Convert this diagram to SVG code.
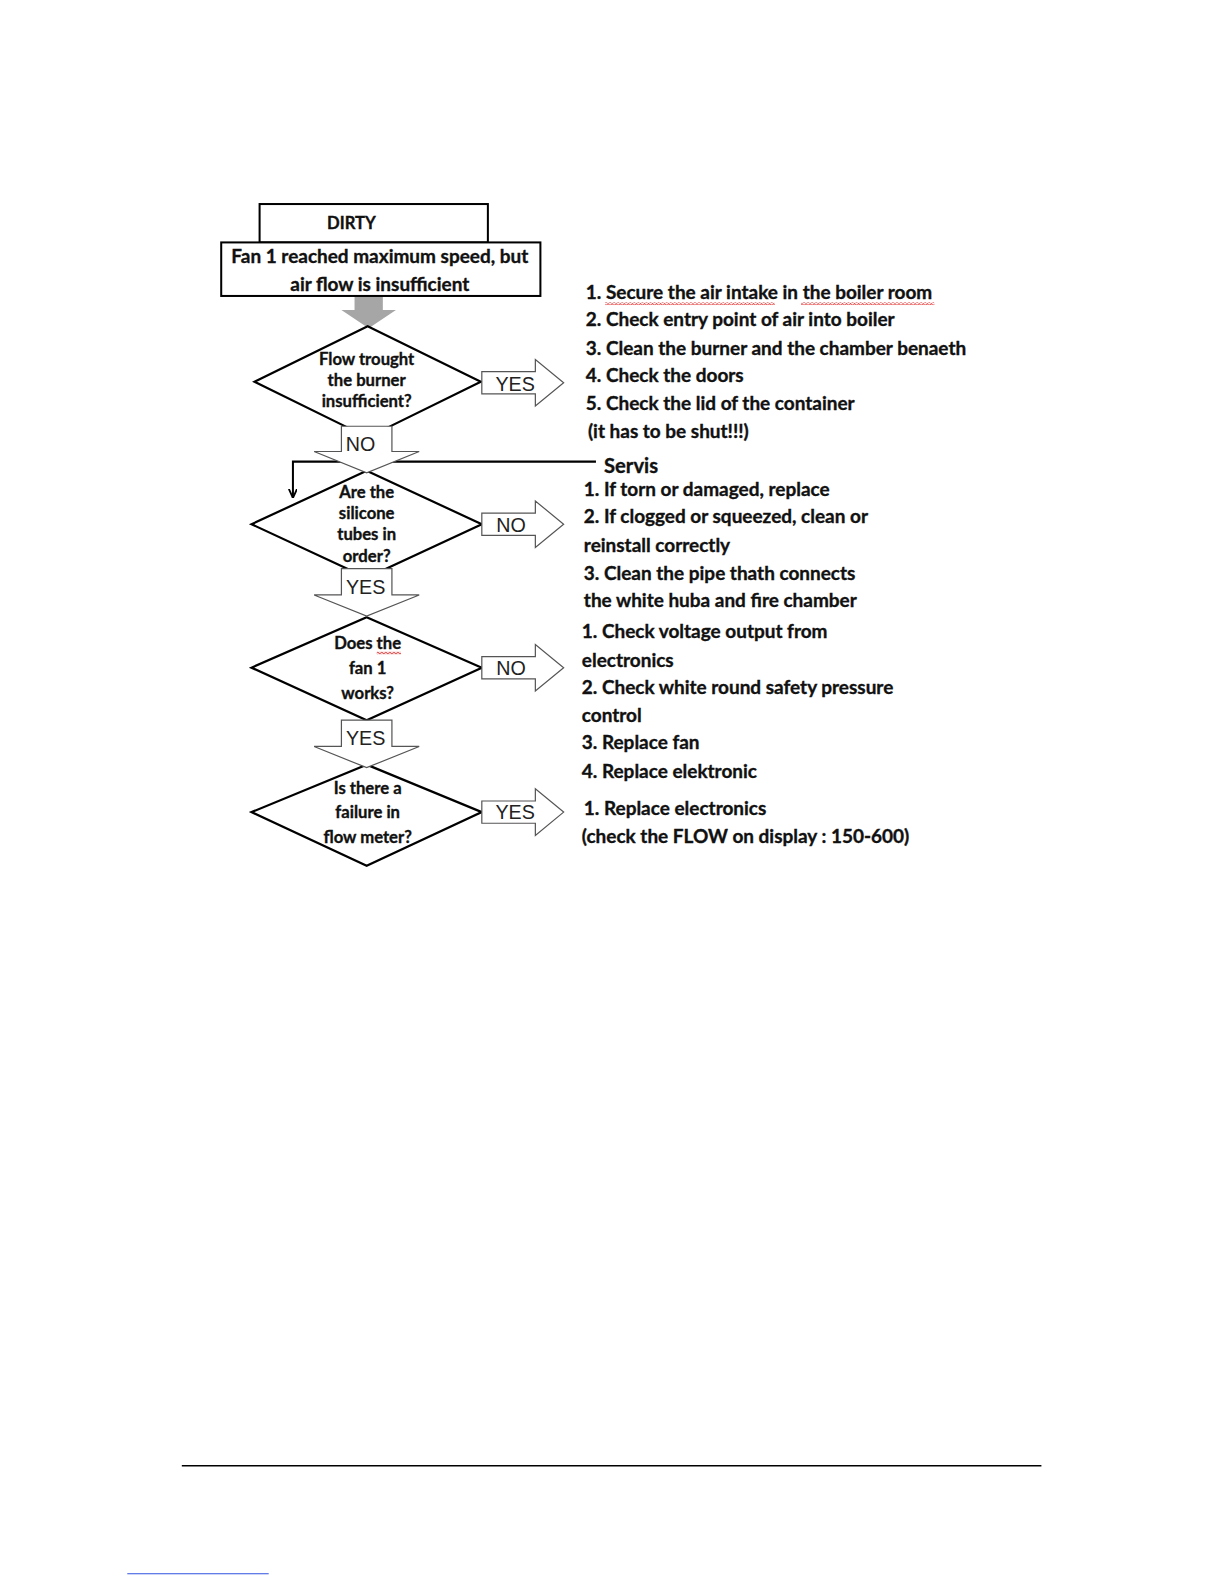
<svg xmlns="http://www.w3.org/2000/svg" width="1224" height="1584" viewBox="0 0 1224 1584">
<style>
.box{fill:#fff;stroke:#000;stroke-width:2}
.dia{fill:#fff;stroke:#000;stroke-width:2.2}
.arr{fill:#fff;stroke:#555;stroke-width:1.2}
.lbl{font-family:"Liberation Sans",Arial,sans-serif;font-size:19.5px;fill:#222;text-anchor:middle;dominant-baseline:central}
.q{font-family:Lato,"Open Sans",sans-serif;font-weight:bold;font-size:16.5px;fill:#111;stroke:#111;stroke-width:0.35;text-anchor:middle}
.bx{font-family:Lato,"Open Sans",sans-serif;font-weight:bold;font-size:18.8px;fill:#111;stroke:#111;stroke-width:0.35;text-anchor:middle}
.t{font-family:Lato,"Open Sans",sans-serif;font-weight:bold;font-size:18.8px;fill:#111;stroke:#111;stroke-width:0.35}
.line{fill:none;stroke:#000;stroke-width:2}
</style>
<defs>
<marker id="ah" viewBox="0 0 10 10" refX="10" refY="5" markerWidth="9" markerHeight="9" orient="auto" markerUnits="userSpaceOnUse">
<path d="M0,0.5 L10,5 L0,9.5" fill="none" stroke="#000" stroke-width="2"/>
</marker>
<pattern id="sq" width="4" height="3" patternUnits="userSpaceOnUse">
<path d="M0,2.5 L2,0.5 L4,2.5" fill="none" stroke="#e03030" stroke-width="0.9"/>
</pattern>
</defs>
<rect width="1224" height="1584" fill="#fff"/>
<g id="page" transform="scale(1.0101)">

<g id="connectors">
<polyline class="line" points="590,457 290,457 290,493" marker-end="url(#ah)"/>
</g>

<g id="start">
<rect class="box" x="257" y="202" width="226" height="38"/>
<text class="q" x="348" y="227">DIRTY</text>
<rect class="box" x="219" y="240" width="316" height="53"/>
<text class="bx" x="376" y="260">Fan 1 reached maximum speed, but</text>
<text class="bx" x="376" y="288">air flow is insufficient</text>
<polygon points="351,294 379,294 379,307 392,307 365,325 338,307 351,307" fill="#a6a6a6"/>
</g>

<g id="decision1">
<polygon class="dia" points="364,323 476,378 364,433 252,378"/>
<text class="q" x="363" y="361">Flow trought</text>
<text class="q" x="363" y="382">the burner</text>
<text class="q" x="363" y="403">insufficient?</text>
</g>

<g id="decision2">
<polygon class="dia" points="363,466 477,519 363,572 249,519"/>
<text class="q" x="363" y="493">Are the</text>
<text class="q" x="363" y="514">silicone</text>
<text class="q" x="363" y="535">tubes in</text>
<text class="q" x="363" y="556">order?</text>
</g>

<g id="decision3">
<polygon class="dia" points="363,611 477,661 363,713 249,661"/>
<text class="q" x="364" y="643">Does the</text>
<text class="q" x="364" y="667">fan 1</text>
<text class="q" x="364" y="692">works?</text>
<rect x="373" y="645" width="24" height="3" fill="url(#sq)"/>
</g>

<g id="decision4">
<polygon class="dia" points="363,757 477,804 363,857 249,804"/>
<text class="q" x="364" y="786">Is there a</text>
<text class="q" x="364" y="810">failure in</text>
<text class="q" x="364" y="835">flow meter?</text>
</g>

<g id="arrow-yes1">
<polygon class="arr" points="477,368 530,368 530,356 558,379 530,402 530,390 477,390"/>
<text class="lbl" x="510" y="380">YES</text>
</g>
<g id="arrow-no1">
<polygon class="arr" points="338,422 388,422 388,447 415,447 363,468 311,447 338,447"/>
<text class="lbl" x="357" y="440">NO</text>
</g>
<g id="arrow-no2">
<polygon class="arr" points="477,508 530,508 530,496 558,519 530,542 530,530 477,530"/>
<text class="lbl" x="506" y="520">NO</text>
</g>
<g id="arrow-yes2">
<polygon class="arr" points="338,563 388,563 388,589 415,589 363,610 311,589 338,589"/>
<text class="lbl" x="362" y="581">YES</text>
</g>
<g id="arrow-no3">
<polygon class="arr" points="477,650 530,650 530,638 558,661 530,684 530,672 477,672"/>
<text class="lbl" x="506" y="661">NO</text>
</g>
<g id="arrow-yes3">
<polygon class="arr" points="338,713 388,713 388,739 415,739 363,760 311,739 338,739"/>
<text class="lbl" x="362" y="731">YES</text>
</g>
<g id="arrow-yes4">
<polygon class="arr" points="477,793 530,793 530,781 558,804 530,827 530,815 477,815"/>
<text class="lbl" x="510" y="804">YES</text>
</g>

<g id="actions1">
<text class="t" x="580" y="296">1. Secure the air intake in the boiler room</text>
<rect x="599" y="299" width="168" height="3" fill="url(#sq)"/>
<rect x="793" y="299" width="132" height="3" fill="url(#sq)"/>
<text class="t" x="580" y="323">2. Check entry point of air into boiler</text>
<text class="t" x="580" y="351">3. Clean the burner and the chamber benaeth</text>
<text class="t" x="580" y="378">4. Check the doors</text>
<text class="t" x="580" y="406">5. Check the lid of the container</text>
<text class="t" x="582" y="434">(it has to be shut!!!)</text>
</g>

<g id="actions2">
<text class="t" x="598" y="468" style="font-size:20px">Servis</text>
<text class="t" x="578" y="491">1. If torn or damaged, replace</text>
<text class="t" x="578" y="518">2. If clogged or squeezed, clean or</text>
<text class="t" x="578" y="546">reinstall correctly</text>
<text class="t" x="578" y="574">3. Clean the pipe thath connects</text>
<text class="t" x="578" y="601">the white huba and fire chamber</text>
</g>

<g id="actions3">
<text class="t" x="576" y="632">1. Check voltage output from</text>
<text class="t" x="576" y="660">electronics</text>
<text class="t" x="576" y="687">2. Check white round safety pressure</text>
<text class="t" x="576" y="715">control</text>
<text class="t" x="576" y="742">3. Replace fan</text>
<text class="t" x="576" y="770">4. Replace elektronic</text>
</g>

<g id="actions4">
<text class="t" x="578" y="807">1. Replace electronics</text>
<text class="t" x="576" y="835">(check the FLOW on display : 150-600)</text>
</g>

<line x1="180" y1="1451" x2="1031" y2="1451" stroke="#000" stroke-width="1.5"/>
<line x1="126" y1="1558" x2="266" y2="1558" stroke="#3050e0" stroke-width="1"/>
</g>
</svg>
